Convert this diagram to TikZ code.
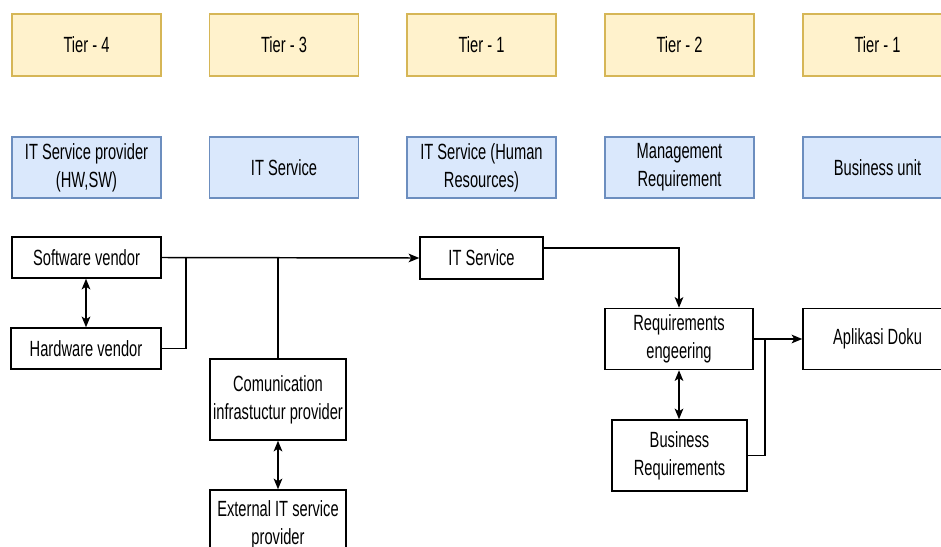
\documentclass[tikz,border=0pt]{standalone}
\usepackage{fontspec}
\setmainfont{Liberation Sans}[FakeStretch=0.667]
\usetikzlibrary{arrows.meta,calc}
\definecolor{yfill}{HTML}{FFF2CC}
\definecolor{ydraw}{HTML}{D6B656}
\definecolor{bfill}{HTML}{DAE8FC}
\definecolor{bdraw}{HTML}{6C8EBF}
\begin{document}
\begin{tikzpicture}[x=0.75pt,y=-0.75pt,
  every node/.style={font=\fontsize{16.5pt}{21pt}\selectfont, align=center, inner sep=0pt},
  tierbox/.style={draw=ydraw, fill=yfill, line width=1.1pt, minimum width=111.75pt, minimum height=46.5pt},
  rolebox/.style={draw=bdraw, fill=bfill, line width=1.1pt, minimum width=111.75pt, minimum height=45.75pt},
  plainbox/.style={draw=black, fill=white, line width=1.1pt},
  conn/.style={line width=1.1pt, draw=black},
  arr/.style={conn, -{Stealth[length=8pt,width=6.5pt,inset=2pt]}},
  darr/.style={conn, {Stealth[length=8pt,width=6.5pt,inset=2pt]}-{Stealth[length=8pt,width=6.5pt,inset=2pt]}}
]
\useasboundingbox (0,0) rectangle (941,546);
\clip (0,0) rectangle (941,546);
\fill[white] (0,0) rectangle (941,546);

% tier row
\node[tierbox] (t4) at (86.5,45) {Tier - 4};
\node[tierbox] (t3) at (284,45) {Tier - 3};
\node[tierbox] (t1a) at (481.5,45) {Tier - 1};
\node[tierbox] (t2) at (679.5,45) {Tier - 2};
\node[tierbox] (t1b) at (877.5,45) {Tier - 1};

% role row
\node[rolebox] (r1) at (86.5,167.5) {IT Service provider\\(HW,SW)};
\node[rolebox] (r2) at (284,167.5) {IT Service};
\node[rolebox] (r3) at (481.5,167.5) {IT Service (Human\\Resources)};
\node[rolebox] (r4) at (679.5,167.5) {Management\\Requirement};
\node[rolebox] (r5) at (877.5,167.5) {Business unit};

% flow
\node[plainbox, minimum width=111.75pt, minimum height=30.75pt] (sw) at (86.5,257.5) {Software vendor};
\node[plainbox, minimum width=112.5pt, minimum height=30.75pt] (hw) at (86,348.5) {Hardware vendor};
\node[plainbox, minimum width=92.25pt, minimum height=31.5pt] (its) at (481.5,258) {IT Service};
\node[plainbox, minimum width=102pt, minimum height=60.75pt] (com) at (278,399.5) {Comunication\\infrastuctur provider};
\node[plainbox, minimum width=102pt, minimum height=52.5pt] (ext) at (278,525) {External IT service\\provider};
\node[plainbox, minimum width=111pt, minimum height=45.75pt] (req) at (679,339) {Requirements\\engeering};
\node[plainbox, minimum width=111.75pt, minimum height=45.75pt] (apl) at (877.5,339) {Aplikasi Doku};
\node[plainbox, minimum width=101.25pt, minimum height=53.25pt] (bus) at (679.5,455.5) {Business\\Requirements};

\coordinate (j1) at (186,258);
\coordinate (j2) at (278,258);
\coordinate (j3) at (765,339);

\draw[arr] (sw.east) -- (its.west);
\draw[conn] (hw.east) -| (j1);
\draw[conn] (com.north) -- (j2);
\draw[darr] (sw.south -| hw.north) -- (hw.north);
\draw[darr] (com.south) -- (ext.north);
\draw[arr] ($(its.east)+(0,-10)$) -| (req.north);
\draw[arr] (req.east) -- (apl.west);
\draw[conn] (bus.east) -| (j3);
\draw[darr] (req.south) -- (req.south |- bus.north);
\end{tikzpicture}
\end{document}
